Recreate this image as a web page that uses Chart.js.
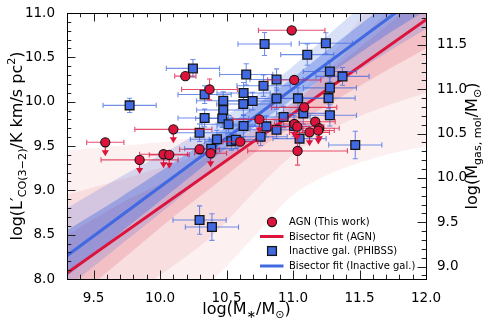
<!DOCTYPE html>
<html><head><meta charset="utf-8">
<script src="https://cdn.jsdelivr.net/npm/chart.js@4/dist/chart.umd.min.js"></script>
<style>html,body{margin:0;padding:0;background:#fff}#wrap{width:490px;height:326px}</style>
</head><body><div id="wrap"><canvas id="c" width="490" height="326"></canvas></div>
<script>
// ---------- data ----------
// AGN (this work)
const agnX    = [10.99, 10.19, 10.372, 11.009, 10.10, 9.588, 9.846, 10.026, 10.069, 10.297, 10.38, 10.603, 10.747, 11.084, 11.01, 11.032, 11.034, 11.124, 11.167, 11.197, 11.19];
const agnY    = [10.805, 10.288, 10.138, 10.245, 9.688, 9.542, 9.343, 9.407, 9.40, 9.463, 9.418, 9.549, 9.80, 9.936, 9.748, 9.718, 9.444, 9.654, 9.774, 9.70, 9.675];
const agnXerr = [0.25, 0.08, 0.21, 0.2, 0.29, 0.14, 0.29, 0.18, 0.15, 0.15, 0.12, 0.13, 0.2, 0.245, 0.15, 0.2, 0.375, 0.15, 0.15, 0.15, 0.12];
const agnYerr = [0, 0.04, 0.118, 0, 0, 0, 0, 0, 0, 0.05, 0, 0, 0, 0, 0, 0, 0.16, 0, 0, 0, 0];
const agnUL   = [0, 0, 0, 0, 1, 1, 1, 1, 1, 0, 1, 0, 1, 0, 1, 1, 0, 1, 0, 1, 1];
// Inactive galaxies (PHIBSS)
const inX    = [10.786, 11.247, 11.107, 10.247, 10.648, 11.277, 11.372, 10.876, 10.778, 11.277, 10.335, 10.628, 9.771, 10.475, 10.626, 10.696, 10.876, 11.037, 11.267, 10.475, 10.335, 10.929, 11.077, 11.277, 10.468, 10.515, 10.628, 10.799, 10.876, 11.007, 10.297, 10.428, 10.756, 11.049, 10.385, 10.536, 10.57, 11.468, 10.297, 10.39];
const inY    = [10.65, 10.658, 10.53, 10.375, 10.307, 10.34, 10.285, 10.25, 10.18, 10.156, 10.08, 10.097, 9.958, 10.01, 9.973, 10.007, 10.035, 10.037, 10.04, 9.906, 9.816, 9.827, 9.868, 9.846, 9.81, 9.745, 9.725, 9.721, 9.684, 9.725, 9.65, 9.576, 9.605, 9.583, 9.47, 9.553, 9.571, 9.512, 8.665, 8.586];
const inXerr = [0.2, 0.2, 0.2, 0.2, 0.2, 0.2, 0.2, 0.2, 0.2, 0.2, 0.2, 0.2, 0.2, 0.2, 0.2, 0.2, 0.2, 0.2, 0.2, 0.2, 0.2, 0.2, 0.2, 0.2, 0.2, 0.2, 0.2, 0.2, 0.2, 0.2, 0.2, 0.2, 0.2, 0.2, 0.2, 0.2, 0.2, 0.2, 0.2, 0.2];
const inYerr = [0.13, 0.12, 0.12, 0.1, 0.12, 0.12, 0.1, 0.12, 0.12, 0.12, 0.1, 0.12, 0.08, 0.1, 0.12, 0.1, 0.12, 0.12, 0.12, 0.1, 0.1, 0.12, 0.12, 0.12, 0.1, 0.1, 0.12, 0.12, 0.1, 0.12, 0.1, 0.1, 0.1, 0.12, 0.1, 0.1, 0.1, 0.155, 0.16, 0.15];
// Bisector fits (end points)
const fitX      = [9.3, 12.0];
const agnFitY   = [8.068, 10.925];
const inFitY    = [8.263, 11.256];
// Bootstrap spread of the fits (envelopes)
const bandX         = [9.3, 9.7, 10.1, 10.4, 10.75, 11.0, 11.3, 11.7, 12.0];
const agnOuterLo    = [7.0, 7.3, 7.7, 8.0, 8.55, 8.95, 9.2, 9.4, 9.5];
const agnOuterHi    = [9.45, 9.5, 9.56, 9.62, 9.72, 10.0, 10.55, 11.3, 11.8];
const agnMidLo      = [7.4, 7.75, 8.15, 8.5, 9.05, 9.4, 9.7, 9.95, 10.1];
const agnMidHi      = [8.95, 9.12, 9.3, 9.45, 9.65, 9.95, 10.4, 11.0, 11.4];
const agnInnerLo    = [7.7, 8.2, 8.7, 9.05, 9.47, 9.72, 10.0, 10.35, 10.6];
const agnInnerHi    = [8.5, 8.85, 9.15, 9.42, 9.72, 10.0, 10.37, 10.85, 11.25];
const inOuterLo     = [7.9, 8.38, 8.86, 9.24, 9.64, 9.9, 10.17, 10.55, 10.82];
const inOuterHi     = [8.8, 9.15, 9.48, 9.75, 10.1, 10.4, 10.8, 11.32, 11.72];
const inInnerLo     = [8.03, 8.52, 9.0, 9.36, 9.76, 10.03, 10.34, 10.75, 11.03];
const inInnerHi     = [8.55, 8.92, 9.31, 9.61, 9.99, 10.27, 10.63, 11.1, 11.48];
// Axes
const xTicks  = [9.5, 10.0, 10.5, 11.0, 11.5, 12.0];
const yTicks  = [8.0, 8.5, 9.0, 9.5, 10.0, 10.5, 11.0];
const y2Ticks = [9.0, 9.5, 10.0, 10.5, 11.0, 11.5];
const xRange = [9.3, 12.0], yRange = [8.0, 11.0], y2Range = [8.86, 11.86];
const legendLabels = ['AGN (This work)', 'Bisector fit (AGN)', 'Inactive gal. (PHIBSS)', 'Bisector fit (Inactive gal.)'];

// ---------- styles ----------
const CRIMSON = 'rgb(220,20,60)';
const ROYAL = 'rgb(65,105,225)';
const FONT = '"DejaVu Sans", "Liberation Sans", sans-serif';

const pts = (xs, ys) => xs.map((x, i) => ({x, y: ys[i]}));
function band(lo, hi, color, order) {
  return [
    {type: 'line', data: pts(bandX, lo), borderWidth: 0, pointRadius: 0, fill: false, order, tension: 0.3},
    {type: 'line', data: pts(bandX, hi), borderWidth: 0, pointRadius: 0, fill: '-1', backgroundColor: color, order, tension: 0.3}
  ];
}

const agnPts = agnX.map((x, i) => ({x, y: agnY[i], xe: agnXerr[i], ye: agnYerr[i], ul: agnUL[i]}));
const inPts  = inX.map((x, i) => ({x, y: inY[i], xe: inXerr[i], ye: inYerr[i], ul: 0}));

const datasets = [
  ...band(agnOuterLo, agnOuterHi, 'rgba(215,70,80,0.08)', 20),
  ...band(agnMidLo, agnMidHi, 'rgba(215,70,80,0.11)', 19),
  ...band(agnInnerLo, agnInnerHi, 'rgba(215,50,70,0.17)', 18),
  ...band(inOuterLo, inOuterHi, 'rgba(65,105,225,0.20)', 17),
  ...band(inInnerLo, inInnerHi, 'rgba(65,105,225,0.38)', 16),
  {type: 'line', data: pts(fitX, inFitY), borderColor: ROYAL, borderWidth: 3, pointRadius: 0, fill: false, order: 6},
  {type: 'line', data: pts(fitX, agnFitY), borderColor: CRIMSON, borderWidth: 3, pointRadius: 0, fill: false, order: 5},
  {type: 'scatter', data: inPts, pointStyle: 'rect', pointRadius: 6.2, backgroundColor: ROYAL, borderColor: '#151515', borderWidth: 1.3, order: 2,
   err: {color: 'rgba(65,105,225,0.75)'}},
  {type: 'scatter', data: agnPts, pointStyle: 'circle', pointRadius: 4.6, backgroundColor: CRIMSON, borderColor: '#151515', borderWidth: 1.1, order: 1,
   err: {color: 'rgba(220,20,60,0.75)', arrow: CRIMSON}}
];

// error bars drawn before their marker dataset
const errPlugin = {
  id: 'errbars',
  beforeDatasetDraw(chart, args) {
    const ds = chart.data.datasets[args.index];
    if (!ds.err) return;
    const ctx = chart.ctx, xs = chart.scales.x, ys = chart.scales.y, ca = chart.chartArea;
    ctx.save();
    ctx.beginPath(); ctx.rect(ca.left, ca.top, ca.width, ca.height); ctx.clip();
    ctx.lineWidth = 1.1;
    const cap = 2.6;
    ds.data.forEach(p => {
      const px = xs.getPixelForValue(p.x), py = ys.getPixelForValue(p.y);
      ctx.strokeStyle = ds.err.color;
      ctx.beginPath();
      if (p.xe) {
        const x0 = xs.getPixelForValue(p.x - p.xe), x1 = xs.getPixelForValue(p.x + p.xe);
        ctx.moveTo(x0, py); ctx.lineTo(x1, py);
        ctx.moveTo(x0, py - cap); ctx.lineTo(x0, py + cap);
        ctx.moveTo(x1, py - cap); ctx.lineTo(x1, py + cap);
      }
      if (p.ye) {
        const y0 = ys.getPixelForValue(p.y - p.ye), y1 = ys.getPixelForValue(p.y + p.ye);
        ctx.moveTo(px, y0); ctx.lineTo(px, y1);
        ctx.moveTo(px - cap, y0); ctx.lineTo(px + cap, y0);
        ctx.moveTo(px - cap, y1); ctx.lineTo(px + cap, y1);
      }
      ctx.stroke();
      if (p.ul) {
        ctx.strokeStyle = ds.err.arrow; ctx.fillStyle = ds.err.arrow;
        ctx.beginPath(); ctx.moveTo(px, py); ctx.lineTo(px, py + 9); ctx.stroke();
        ctx.beginPath(); ctx.moveTo(px - 3.6, py + 8); ctx.lineTo(px + 3.6, py + 8); ctx.lineTo(px, py + 14); ctx.closePath(); ctx.fill();
      }
    });
    ctx.restore();
  }
};

function drawRich(ctx, segs, cx, cy, rot, size) {
  ctx.save();
  ctx.translate(cx, cy); ctx.rotate(rot);
  let w = 0;
  segs.forEach(s => { ctx.font = (s.s ? size * 0.7 : size) + 'px ' + FONT; w += ctx.measureText(s.t).width; });
  let x = -w / 2;
  ctx.textBaseline = 'alphabetic'; ctx.textAlign = 'left'; ctx.fillStyle = '#000';
  segs.forEach(s => {
    const fs = s.s ? size * 0.7 : size;
    ctx.font = fs + 'px ' + FONT;
    const dy = s.s === 'sub' ? size * 0.22 : (s.s === 'sup' ? -size * 0.42 : 0);
    ctx.fillText(s.t, x, dy);
    x += ctx.measureText(s.t).width;
  });
  ctx.restore();
}

const framePlugin = {
  id: 'frame',
  afterDraw(chart) {
    const ctx = chart.ctx, ca = chart.chartArea;
    const xs = chart.scales.x, ys = chart.scales.y, y2 = chart.scales.y2;
    ctx.save();
    // ticks (inward, on all four sides)
    ctx.strokeStyle = '#222'; ctx.lineWidth = 1;
    const major = 8.5, minor = 4.3;
    const isMajor = (v, arr) => arr.some(t => Math.abs(t - v) < 1e-6);
    ctx.beginPath();
    for (let k = Math.round(xRange[0] * 10); k <= Math.round(xRange[1] * 10); k++) {
      const v = k / 10, L = isMajor(v, xTicks) ? major : minor;
      const px = Math.round(xs.getPixelForValue(v)) + 0.5;
      ctx.moveTo(px, ca.bottom); ctx.lineTo(px, ca.bottom - L);
      ctx.moveTo(px, ca.top); ctx.lineTo(px, ca.top + L);
    }
    for (let k = Math.round(yRange[0] * 10); k <= Math.round(yRange[1] * 10); k++) {
      const v = k / 10, L = isMajor(v, yTicks) ? major : minor;
      const py = Math.round(ys.getPixelForValue(v)) + 0.5;
      ctx.moveTo(ca.left, py); ctx.lineTo(ca.left + L, py);
    }
    for (let k = Math.ceil(y2Range[0] * 10); k <= Math.floor(y2Range[1] * 10); k++) {
      const v = k / 10, L = isMajor(v, y2Ticks) ? major : minor;
      const py = Math.round(y2.getPixelForValue(v)) + 0.5;
      ctx.moveTo(ca.right, py); ctx.lineTo(ca.right - L, py);
    }
    ctx.stroke();
    // frame
    ctx.strokeStyle = '#000'; ctx.lineWidth = 1;
    ctx.strokeRect(Math.round(ca.left) + 0.5, Math.round(ca.top) + 0.5, Math.round(ca.width), Math.round(ca.height));

    // axis titles
    drawRich(ctx, [{t: 'log(M'}, {t: '\u2217', s: 'sub'}, {t: '/M'}, {t: '\u2299', s: 'sub'}, {t: ')'}],
      (ca.left + ca.right) / 2, 314, 0, 16);
    drawRich(ctx, [{t: 'log(L\u2032'}, {t: 'CO(3\u22122)', s: 'sub'}, {t: '/K km/s pc'}, {t: '2', s: 'sup'}, {t: ')'}],
      22, (ca.top + ca.bottom) / 2, -Math.PI / 2, 16);
    drawRich(ctx, [{t: 'log(M'}, {t: 'gas, mol', s: 'sub'}, {t: '/M'}, {t: '\u2299', s: 'sub'}, {t: ')'}],
      477, (ca.top + ca.bottom) / 2, -Math.PI / 2, 16);

    // legend
    const lx = 272, tx = 289, rows = [222, 236.5, 251, 266];
    ctx.font = '10px ' + FONT; ctx.fillStyle = '#000'; ctx.textBaseline = 'middle'; ctx.textAlign = 'left';
    ctx.beginPath(); ctx.arc(lx, rows[0], 4.6, 0, Math.PI * 2);
    ctx.fillStyle = CRIMSON; ctx.fill(); ctx.lineWidth = 1.1; ctx.strokeStyle = '#151515'; ctx.stroke();
    ctx.beginPath(); ctx.moveTo(260, rows[1]); ctx.lineTo(283.5, rows[1]); ctx.lineWidth = 3; ctx.strokeStyle = CRIMSON; ctx.stroke();
    ctx.fillStyle = ROYAL; ctx.fillRect(lx - 4.4, rows[2] - 4.4, 8.8, 8.8);
    ctx.lineWidth = 1.3; ctx.strokeStyle = '#151515'; ctx.strokeRect(lx - 4.4, rows[2] - 4.4, 8.8, 8.8);
    ctx.beginPath(); ctx.moveTo(260, rows[3]); ctx.lineTo(283.5, rows[3]); ctx.lineWidth = 3; ctx.strokeStyle = ROYAL; ctx.stroke();
    ctx.fillStyle = '#000';
    legendLabels.forEach((t, i) => ctx.fillText(t, tx, rows[i] + 0.5));
    ctx.restore();
  }
};

const tickFont = {family: FONT, size: 13.5};
const fmt = v => Number(v).toFixed(1);

new Chart(document.getElementById('c'), {
  type: 'scatter',
  data: {datasets},
  options: {
    responsive: false, animation: false, devicePixelRatio: 1,
    layout: {padding: {top: 13, left: 0, right: 0, bottom: 0}},
    plugins: {legend: {display: false}, tooltip: {enabled: false}},
    scales: {
      x: {type: 'linear', position: 'bottom', min: xRange[0], max: xRange[1],
          grid: {display: false}, border: {display: false},
          afterBuildTicks: s => { s.ticks = xTicks.map(v => ({value: v})); },
          afterFit: s => { s.height = 47; },
          ticks: {font: tickFont, color: '#000', padding: 3, maxRotation: 0, autoSkip: false, callback: fmt}},
      y: {type: 'linear', position: 'left', min: yRange[0], max: yRange[1],
          grid: {display: false}, border: {display: false},
          afterBuildTicks: s => { s.ticks = yTicks.map(v => ({value: v})); },
          afterFit: s => { s.width = 67; },
          ticks: {font: tickFont, color: '#000', padding: 4, autoSkip: false, callback: fmt}},
      y2: {type: 'linear', position: 'right', min: y2Range[0], max: y2Range[1],
          grid: {display: false}, border: {display: false},
          afterBuildTicks: s => { s.ticks = y2Ticks.map(v => ({value: v})); },
          afterFit: s => { s.width = 64; },
          ticks: {font: tickFont, color: '#000', padding: 3, autoSkip: false, callback: fmt}}
    }
  },
  plugins: [errPlugin, framePlugin]
});
</script></body></html>
